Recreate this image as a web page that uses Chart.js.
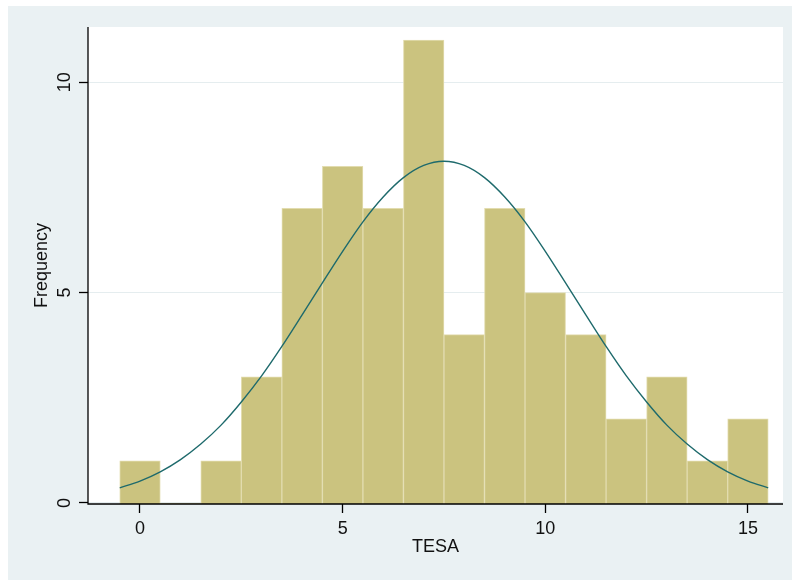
<!DOCTYPE html>
<html>
<head>
<meta charset="utf-8">
<script src="https://cdn.jsdelivr.net/npm/chart.js@4"></script>
<style>
  html, body { margin: 0; padding: 0; background: #EAF1F3; overflow: hidden; }
  #wrap { width: 792px; height: 580px; }
  canvas { display: block; }
</style>
</head>
<body>
<div id="wrap"><canvas id="hist" width="792" height="580"></canvas></div>
<script>
// histogram bins (TESA) and counts
const bins = [0, 1, 2, 3, 4, 5, 6, 7, 8, 9, 10, 11, 12, 13, 14, 15];
const freq = [1, 0, 1, 3, 7, 8, 7, 11, 4, 7, 5, 4, 2, 3, 1, 2];
// normal curve
const curveX = [-0.5, 0, 0.5, 1, 1.5, 2, 2.5, 3, 3.5, 4, 4.5, 5, 5.5, 6, 6.5, 7, 7.5,
  8, 8.5, 9, 9.5, 10, 10.5, 11, 11.5, 12, 12.5, 13, 13.5, 14, 14.5, 15, 15.5];
const curveY = [0.36, 0.52, 0.74, 1.03, 1.40, 1.85, 2.40, 3.02, 3.72, 4.47, 5.23, 5.98, 6.68, 7.27, 7.73, 8.02, 8.12,
  8.02, 7.73, 7.27, 6.68, 5.98, 5.23, 4.47, 3.72, 3.02, 2.40, 1.85, 1.40, 1.03, 0.74, 0.52, 0.36];
const xTicks = [0, 5, 10, 15];
const yTicks = [0, 5, 10];

const FONT = '"Liberation Sans", Arial, sans-serif';

const stata = {
  id: 'stata',
  beforeDraw(chart) {
    const c = chart.ctx, a = chart.chartArea;
    c.save();
    c.fillStyle = '#ffffff';
    c.fillRect(0, 0, chart.width, chart.height);
    c.fillStyle = '#EAF1F3';
    c.fillRect(8, 6, chart.width, chart.height);
    c.fillStyle = '#ffffff';
    c.fillRect(a.left, a.top, a.right - a.left, a.bottom - a.top);
    c.restore();
  },
  afterDatasetsDraw(chart) {
    const c = chart.ctx, a = chart.chartArea, y = chart.scales.y;
    c.save();
    c.strokeStyle = '#000000';
    c.lineWidth = 1.3;
    c.beginPath();
    c.moveTo(a.left, a.top);
    c.lineTo(a.left, a.bottom);
    c.lineTo(a.right, a.bottom);
    c.stroke();
    // rotated y tick labels
    c.fillStyle = '#111111';
    c.font = '18px ' + FONT;
    c.textAlign = 'center';
    c.textBaseline = 'middle';
    yTicks.forEach(v => {
      c.save();
      c.translate(65, y.getPixelForValue(v));
      c.rotate(-Math.PI / 2);
      c.fillText(String(v), 0, 0);
      c.restore();
    });
    c.restore();
  }
};

new Chart(document.getElementById('hist').getContext('2d'), {
  type: 'bar',
  data: {
    datasets: [{
      type: 'line',
      data: curveX.map((x, i) => ({x: x, y: curveY[i]})),
      borderColor: '#1E6A6C',
      borderWidth: 1.4,
      pointRadius: 0,
      tension: 0.4,
      cubicInterpolationMode: 'monotone',
      fill: false,
      order: 0
    }, {
      data: bins.map((b, i) => ({x: b, y: freq[i]})),
      backgroundColor: '#CBC37F',
      borderColor: '#E2DCAF',
      borderWidth: 1,
      base: -0.07,
      barPercentage: 1,
      categoryPercentage: 1,
      order: 1
    }]
  },
  options: {
    responsive: false,
    animation: false,
    layout: { padding: { left: 8, top: 27, right: 9, bottom: 0 } },
    plugins: { legend: { display: false }, tooltip: { enabled: false } },
    scales: {
      x: {
        type: 'linear',
        offset: false,
        min: -1.283,
        max: 15.865,
        afterBuildTicks: s => { s.ticks = xTicks.map(v => ({value: v})); },
        afterFit: s => { s.height = 76; },
        border: { display: false },
        grid: { offset: false, drawOnChartArea: false, tickLength: 9, tickColor: '#000000', tickWidth: 1.3 },
        ticks: { color: '#111111', padding: 5, font: { size: 18, family: FONT }, maxRotation: 0 },
        title: { display: true, text: 'TESA', color: '#111111', font: { size: 18, family: FONT }, padding: { top: 0, bottom: 22 } }
      },
      y: {
        min: -0.024,
        max: 11.31,
        afterBuildTicks: s => { s.ticks = yTicks.map(v => ({value: v})); },
        afterFit: s => { s.width = 80; },
        border: { display: false },
        grid: { color: '#E5EDEF', lineWidth: 1, tickLength: 9, tickColor: '#000000', tickWidth: 1.3 },
        ticks: { display: false },
        title: { display: true, text: 'Frequency', color: '#111111', font: { size: 18, family: FONT }, padding: { top: 23, bottom: 0 } }
      }
    }
  },
  plugins: [stata]
});
</script>
</body>
</html>
